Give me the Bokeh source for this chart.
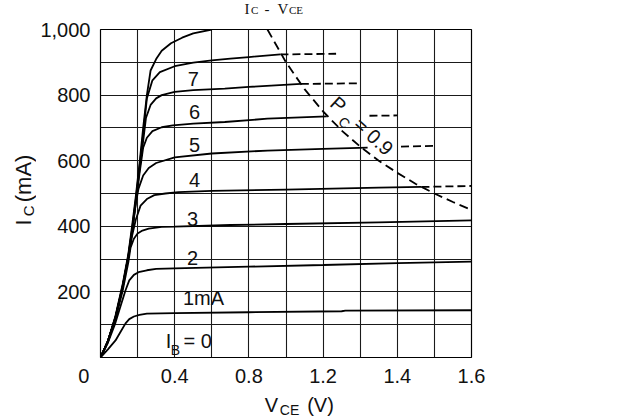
import math
from bokeh.plotting import figure
from bokeh.layouts import column, row
from bokeh.models import Label, FixedTicker, Range1d
from bokeh.embed import file_html
from bokeh.resources import INLINE

# ---------------- data ----------------
# V_CE in volts, I_C in mA
top_v = [0, 0.04, 0.08, 0.12, 0.15, 0.17, 0.19, 0.21, 0.23, 0.25, 0.27, 0.30, 0.33, 0.38, 0.44, 0.50, 0.60]
top_i = [0, 50, 125, 225, 315, 400, 490, 590, 700, 800, 875, 910, 935, 958, 975, 988, 1000]

ib8_v = [0, 0.04, 0.08, 0.12, 0.15, 0.17, 0.19, 0.21, 0.23, 0.25, 0.28, 0.32, 0.40, 0.50, 0.60, 0.70, 0.80, 0.97]
ib8_i = [0, 50, 122, 220, 310, 390, 480, 580, 680, 790, 845, 870, 888, 899, 906, 911, 916, 924]
ib8_dash_v = [0.97, 1.27]
ib8_dash_i = [924, 926]

ib7_v = [0, 0.04, 0.08, 0.12, 0.15, 0.17, 0.19, 0.21, 0.23, 0.245, 0.27, 0.30, 0.33, 0.40, 0.50, 0.67, 0.80, 1.08]
ib7_i = [0, 50, 120, 218, 308, 385, 475, 570, 660, 730, 770, 790, 800, 810, 815, 820, 825, 834]
ib7_dash_v = [1.08, 1.40]
ib7_dash_i = [834, 836]

ib6_v = [0, 0.04, 0.08, 0.12, 0.15, 0.17, 0.19, 0.21, 0.23, 0.25, 0.28, 0.33, 0.39, 0.50, 0.67, 0.90, 1.22]
ib6_i = [0, 50, 120, 216, 306, 382, 470, 560, 640, 670, 690, 702, 708, 713, 718, 728, 735]
ib6_dash_v = [1.45, 1.60]
ib6_dash_i = [737, 738]

ib5_v = [0, 0.04, 0.08, 0.12, 0.15, 0.17, 0.19, 0.205, 0.23, 0.26, 0.30, 0.40, 0.60, 0.90, 1.20, 1.44]
ib5_i = [0, 50, 120, 215, 305, 380, 470, 515, 555, 578, 593, 610, 622, 631, 636, 640]
ib5_dash_v = [1.62, 1.80]
ib5_dash_i = [643, 645]

ib4_v = [0, 0.04, 0.08, 0.12, 0.15, 0.17, 0.19, 0.216, 0.25, 0.29, 0.35, 0.42, 0.60, 1.00, 1.50, 1.73]
ib4_i = [0, 50, 120, 215, 305, 370, 420, 463, 483, 495, 500, 504, 508, 512, 518, 520]
ib4_dash_v = [1.73, 2.00]
ib4_dash_i = [520, 523]

ib3_v = [0, 0.04, 0.08, 0.12, 0.15, 0.162, 0.18, 0.20, 0.226, 0.26, 0.33, 0.40, 0.70, 1.00, 1.50, 2.00]
ib3_i = [0, 48, 115, 205, 290, 335, 362, 378, 387, 393, 398, 399, 404, 407, 412, 418]

ib2_v = [0, 0.04, 0.08, 0.11, 0.135, 0.155, 0.18, 0.205, 0.25, 0.30, 0.40, 0.80, 1.20, 1.60, 2.00]
ib2_i = [0, 45, 105, 160, 205, 235, 252, 260, 266, 270, 272, 277, 282, 288, 292]

ib1_v = [0, 0.04, 0.081, 0.11, 0.135, 0.155, 0.18, 0.21, 0.25, 0.40, 0.80, 1.30, 1.32, 2.00]
ib1_i = [0, 25, 52, 80, 104, 117, 125, 130, 134, 135, 138, 141, 143, 144]

# Pc = 0.9 W limit line
pc_v = [0.90, 1.00, 1.10, 1.20, 1.30, 1.40, 1.50, 1.60, 1.70, 1.80, 1.90, 2.00]
pc_i = [1000, 900, 818, 750, 692, 643, 600, 563, 529, 500, 474, 450]

curve_labels = ["1mA", "2", "3", "4", "5", "6", "7"]

x_tick_values = [0.0, 0.4, 0.8, 1.2, 1.6, 2.0]
x_tick_labels = ["0", "0.4", "0.8", "1.2", "1.4", "1.6"]
y_tick_values = [200, 400, 600, 800, 1000]
y_tick_labels = ["200", "400", "600", "800", "1,000"]

x_grid = [0.2, 0.4, 0.6, 0.8, 1.0, 1.2, 1.4, 1.6, 1.8]
y_grid = [100, 200, 300, 400, 500, 600, 700, 800, 900]

# ---------------- styling ----------------
SANS = "Liberation Sans"
SERIF = "Liberation Serif"
INK = "#111111"
NBSP = "\u00a0"

TOTAL_W, TOTAL_H = 624, 418
TITLE_H = 17                 # page rows 0..17 hold the chart title
FRAME_TOP, FRAME_BOTTOM = 29, 357
FRAME_LEFT, FRAME_RIGHT = 100, 471
YT_W = 36
MAIN_BOTTOM = 392
MAIN_W = TOTAL_W - YT_W
MAIN_H = MAIN_BOTTOM - TITLE_H
XT_H = TOTAL_H - MAIN_BOTTOM


def strip(w, h, y_range=None):
    f = figure(width=w, height=h, output_backend="svg", toolbar_location=None, title=None,
               x_range=Range1d(0, w), y_range=y_range or Range1d(0, h),
               x_axis_type=None, y_axis_type=None, min_border=0)
    f.outline_line_color = None
    f.background_fill_color = "white"
    f.border_fill_color = "white"
    return f


def lab(fig, x, y, text, size="20px", font=SANS, align="center", baseline="middle", angle=0.0):
    fig.add_layout(Label(x=x, y=y, text=text, text_font=font, text_font_size=size,
                         text_align=align, text_baseline=baseline, angle=angle,
                         text_color=INK))


# ---------------- main plot ----------------
p = figure(width=MAIN_W, height=MAIN_H, output_backend="svg", toolbar_location=None, title=None,
           x_range=Range1d(0, 2.0), y_range=Range1d(0, 1000),
           min_border_left=FRAME_LEFT - YT_W, min_border_right=MAIN_W - (FRAME_RIGHT - YT_W),
           min_border_top=FRAME_TOP - TITLE_H, min_border_bottom=MAIN_BOTTOM - FRAME_BOTTOM)
p.background_fill_color = "white"
p.border_fill_color = "white"
p.outline_line_color = "black"
p.outline_line_width = 1.2

for ax in (p.xaxis[0], p.yaxis[0]):
    ax.axis_line_color = None
    ax.major_tick_line_color = None
    ax.minor_tick_line_color = None
    ax.major_tick_out = 0
    ax.major_tick_in = 0
    ax.minor_tick_out = 0
    ax.minor_tick_in = 0
    ax.major_label_text_font = SANS
    ax.major_label_text_font_size = "20px"
    ax.major_label_text_color = INK

x_over = {v: t for v, t in zip(x_tick_values, x_tick_labels)}
x_over[0.0] = "0" + NBSP * 6   # the origin "0" sits left of the corner
p.xaxis[0].ticker = FixedTicker(ticks=x_tick_values)
p.xaxis[0].major_label_overrides = x_over
p.xaxis[0].major_label_standoff = 7
p.yaxis[0].ticker = FixedTicker(ticks=y_tick_values)
p.yaxis[0].major_label_overrides = {v: t for v, t in zip(y_tick_values, y_tick_labels)}
p.yaxis[0].major_label_standoff = 10

p.xgrid.ticker = FixedTicker(ticks=x_grid)
p.ygrid.ticker = FixedTicker(ticks=y_grid)
for g in (p.xgrid[0], p.ygrid[0]):
    g.grid_line_color = "#1a1a1a"
    g.grid_line_width = 1.1
    g.grid_line_alpha = 1.0

LW = 1.8
solid = [(top_v, top_i), (ib8_v, ib8_i), (ib7_v, ib7_i), (ib6_v, ib6_i), (ib5_v, ib5_i),
         (ib4_v, ib4_i), (ib3_v, ib3_i), (ib2_v, ib2_i), (ib1_v, ib1_i)]
for xs, ys in solid:
    p.line(xs, ys, line_color="black", line_width=LW)

dashed = [(ib8_dash_v, ib8_dash_i), (ib7_dash_v, ib7_dash_i), (ib6_dash_v, ib6_dash_i),
          (ib5_dash_v, ib5_dash_i), (ib4_dash_v, ib4_dash_i)]
for xs, ys in dashed:
    p.line(xs, ys, line_color="black", line_width=LW, line_dash="8 4")

p.line(pc_v, pc_i, line_color="black", line_width=LW, line_dash="9 5")

# curve labels (data coordinates)
label_pos = [(0.555, 180), (0.496, 302), (0.496, 421), (0.507, 540), (0.507, 649), (0.507, 747), (0.501, 848)]
for (lx, ly), t in zip(label_pos, curve_labels):
    lab(p, lx, ly, t)

# I_B = 0
lab(p, 0.367, 49, "I")
lab(p, 0.404, 24, "B", size="14px")
lab(p, 0.447, 49, "= 0", align="left")

# P_C = 0.9
ang = -math.radians(42)
lab(p, 1.283, 771, "P", angle=ang)
lab(p, 1.315, 716, "C", size="14px", angle=ang)
lab(p, 1.472, 674, "= 0.9", angle=ang)

# ---------------- title strip:  Ic - VCE ----------------
t = strip(TOTAL_W, TITLE_H)
lab(t, 244, TITLE_H - 8.5, "I", size="15px", font=SERIF, align="left")
lab(t, 250.5, TITLE_H - 9.9, "C", size="11px", font=SERIF, align="left")
lab(t, 264, TITLE_H - 8.5, "-", size="15px", font=SERIF, align="left")
lab(t, 277, TITLE_H - 8.5, "V", size="15px", font=SERIF, align="left")
lab(t, 288.5, TITLE_H - 9.9, "CE", size="11px", font=SERIF, align="left")

# ---------------- y title strip:  I_C (mA)  (shares the main y scale) ----------------
yt = strip(YT_W, MAIN_H, y_range=Range1d(0, 1000))
lab(yt, 23, 412, "I", size="22px", angle=math.pi / 2)
lab(yt, 28, 447, "C", size="15px", angle=math.pi / 2)
lab(yt, 23, 546, "(mA)", size="22px", angle=math.pi / 2)

# ---------------- x title strip:  V_CE (V) ----------------
xt = strip(TOTAL_W, XT_H)
lab(xt, 271, TOTAL_H - 404.5, "V", size="20px")
lab(xt, 289, TOTAL_H - 409, "CE", size="14px")
lab(xt, 320, TOTAL_H - 404.5, "(V)", size="20px")

layout = column(t, row(yt, p, spacing=0), xt, spacing=0)
open("out.html", "w").write(file_html(layout, INLINE))
